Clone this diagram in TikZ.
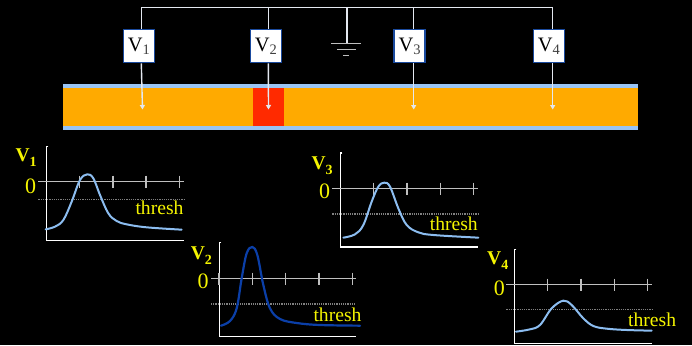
\documentclass[tikz,border=0pt]{standalone}
\usepackage{fontspec}
\setmainfont{Liberation Serif}
\usetikzlibrary{arrows.meta}
\definecolor{oran}{HTML}{FFAA00}
\definecolor{redzone}{HTML}{FF2A00}
\definecolor{lblue}{HTML}{99C4F5}
\definecolor{boxblue}{HTML}{1A4A9E}
\definecolor{trace}{HTML}{8CBDF0}
\definecolor{tracedark}{HTML}{0B3FA8}
\definecolor{yel}{HTML}{F5F500}
\definecolor{wire}{HTML}{E4E8F0}
\tikzset{
  meter/.style={draw=boxblue,line width=1.3pt,fill=white,minimum width=31pt,minimum height=33pt,inner sep=0pt,text=black,font=\fontsize{20.5}{22}\selectfont},
  wireline/.style={draw=wire,line width=1.4pt},
  probe/.style={wireline,-{Triangle[length=4.5pt,width=5pt]}},
  gnd/.style={draw=lightgray,line width=1.5pt},
  axisline/.style={draw=white,line width=1.2pt},
  zeroline/.style={draw=lightgray,line width=1.5pt},
  tickline/.style={draw=lightgray,line width=1.2pt},
  threshline/.style={draw=gray,line width=1.1pt,dash pattern=on 1.2pt off 1pt},
  tracecurve/.style={draw=trace,line width=2pt,line cap=round},
  tracedk/.style={draw=tracedark,line width=2.2pt,line cap=round},
  threshtxt/.style={text=yel,anchor=base west,inner sep=0pt,font=\fontsize{19.6}{21}\selectfont},
  zerotxt/.style={text=yel,anchor=base west,inner sep=0pt,font=\fontsize{22}{23}\selectfont},
  vlabel/.style={text=yel,anchor=base west,inner sep=0pt,font=\fontsize{19.5}{20}\selectfont\bfseries},
  zoomed/.style={x=0.33333pt,y=-0.33333pt}
}
% #1 axis x, #2 top, #3 bottom, #4 right end, #5 zero y, #6 left end, #7 thresh y, #8 tick list
\newcommand{\plotaxes}[8]{
  \draw[axisline] (#1+5,#2) -- (#1,#2) -- (#1,#3) -- (#4,#3);
  \draw[zeroline] (#6,#5) -- (#4,#5);
  \draw[threshline] (#6,#7) -- (#4,#7);
  \foreach \t in {#8} \draw[tickline] (\t,#5-18) -- (\t,#5+18);
}
\newcommand{\vlab}[1]{V\raisebox{-5pt}{\fontsize{14}{15}\selectfont #1}}
\newcommand{\mlab}[1]{V\raisebox{-3.5pt}{\fontsize{14.5}{15}\selectfont\color{black!75} #1}}
\begin{document}
\begin{tikzpicture}[x=1pt,y=1pt]
\useasboundingbox (0,0) rectangle (692,-345);
\fill[black] (0,0) rectangle (692,-345);
% cell
\fill[lblue] (63,-84) rectangle (638,-130);
\fill[oran] (63,-87.7) rectangle (637.5,-126);
\fill[redzone] (253,-87.7) rectangle (284,-126);
% wiring coordinates
\coordinate (w1) at (141.3,-7.5);
\coordinate (w2) at (268.3,-7.5);
\coordinate (wg) at (347,-7.5);
\coordinate (w3) at (413.7,-7.5);
\coordinate (w4) at (552.7,-7.5);
\coordinate (g1) at (347,-43.5);
\coordinate (e1) at (142.5,-109.5);
\coordinate (e2) at (268.5,-109.5);
\coordinate (e3) at (413.7,-109.5);
\coordinate (e4) at (552.7,-109.5);
\node[meter] (v1) at (138.8,-46.3) {\mlab{1}};
\node[meter] (v2) at (265.8,-46.3) {\mlab{2}};
\node[meter] (v3) at (409.6,-46.3) {\mlab{3}};
\node[meter] (v4) at (548.8,-46.3) {\mlab{4}};
\draw[wireline] (w1 |- v1.north) -- (w1) -- (w4) -- (w4 |- v4.north);
\draw[wireline] (w2) -- (w2 |- v2.north);
\draw[wireline] (w3) -- (w3 |- v3.north);
\draw[wireline] (wg) -- (g1);
\draw[probe] (w1 |- v1.south) -- (e1);
\draw[probe] (w2 |- v2.south) -- (e2);
\draw[probe] (w3 |- v3.south) -- (e3);
\draw[probe] (w4 |- v4.south) -- (e4);
% ground
\draw[gnd] (331,-43.5) -- (361,-43.5);
\draw[gnd] (337,-49.5) -- (356,-49.5);
\draw[gnd] (343,-55.5) -- (349,-55.5);
% V1 plot
\begin{scope}[shift={(0pt,-135pt)},zoomed]
\plotaxes{140}{35}{316}{551}{140}{115}{194}{238,339,438,538}
\draw[tracecurve] plot[smooth,tension=.6] coordinates {(137,283)(165,275)(190,255)(215,200)(240,135)(262,118)(280,130)(300,180)(325,235)(350,258)(380,268)(440,277)(545,284)};
\node[threshtxt] (t1) at (406,238) {thresh};
\node[zerotxt] (z1) at (75,174) {0};
\node[vlabel] (l1) at (46,80) {\vlab{1}};
\end{scope}
% V2 plot
\begin{scope}[shift={(180pt,-235pt)},zoomed]
\plotaxes{118}{22}{305}{528}{131}{93}{207}{117,217,317,417,517}
\draw[tracedk] plot[smooth,tension=.6] coordinates {(123,272)(150,258)(170,220)(185,130)(200,55)(217,36)(232,60)(250,150)(270,220)(300,252)(350,264)(420,270)(540,272)};
\node[threshtxt] (t2) at (400,258) {thresh};
\node[zerotxt] (z2) at (52,161) {0};
\node[vlabel] (l2) at (32,72) {\vlab{2}};
\end{scope}
% V3 plot
\begin{scope}[shift={(300pt,-145pt)},zoomed]
\plotaxes{122}{24}{306}{534}{131}{97}{207}{221,321,421,521}
\draw[tracecurve] plot[smooth,tension=.6] coordinates {(130,278)(165,268)(190,240)(215,170)(235,125)(253,113)(270,125)(295,190)(320,240)(355,262)(400,270)(535,278)};
\node[threshtxt] (t3) at (389,255) {thresh};
\node[zerotxt] (z3) at (57,161) {0};
\node[vlabel] (l3) at (34,72) {\vlab{3}};
\end{scope}
% V4 plot
\begin{scope}[shift={(480pt,-240pt)},zoomed]
\plotaxes{104}{28}{310}{515}{134}{79}{209}{203,303,403,503}
\draw[tracecurve] plot[smooth,tension=.6] coordinates {(108,275)(150,268)(180,255)(215,205)(250,182)(275,195)(310,235)(340,258)(380,266)(440,270)(515,272)};
\node[threshtxt] (t4) at (444,258) {thresh};
\node[zerotxt] (z4) at (41,167) {0};
\node[vlabel] (l4) at (21,74) {\vlab{4}};
\end{scope}
\end{tikzpicture}
\end{document}
